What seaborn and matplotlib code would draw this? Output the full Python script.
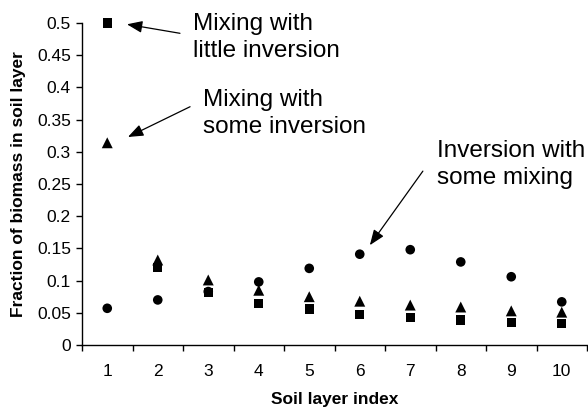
import numpy as np
import pandas as pd
import matplotlib
matplotlib.use("Agg")
import matplotlib.pyplot as plt
import seaborn as sns

# soil layer index and fraction of biomass per layer, three mixing regimes
layers = list(range(1, 11))
inversion_some_mixing = [0.057, 0.070, 0.083, 0.098, 0.119, 0.141, 0.148, 0.129, 0.106, 0.067]
mixing_some_inversion = [0.314, 0.132, 0.101, 0.085, 0.075, 0.068, 0.062, 0.059, 0.053, 0.051]
mixing_little_inversion = [0.500, 0.120, 0.082, 0.064, 0.056, 0.047, 0.043, 0.039, 0.035, 0.033]

series_names = ["Inversion with some mixing", "Mixing with some inversion", "Mixing with little inversion"]
series_values = [inversion_some_mixing, mixing_some_inversion, mixing_little_inversion]

df = pd.concat(
    [pd.DataFrame({"layer": layers, "fraction": v, "series": n}) for n, v in zip(series_names, series_values)],
    ignore_index=True,
)

sns.set_theme(style="ticks")
plt.rcParams["font.family"] = ["Liberation Sans", "DejaVu Sans"]

fig = plt.figure(figsize=(5.88, 4.08), dpi=100)
ax = fig.add_axes([82 / 588, 1 - 345 / 408, 505 / 588, 322 / 408])

sns.scatterplot(
    data=df, x="layer", y="fraction", style="series", size="series",
    markers={series_names[0]: "o", series_names[1]: "^", series_names[2]: "s"},
    sizes={series_names[0]: 48, series_names[1]: 62, series_names[2]: 45},
    color="black", edgecolor="black", linewidth=0, legend=False, ax=ax, zorder=3, clip_on=False,
)

ax.set_xlim(0.5, 10.5)
ax.set_ylim(0, 0.5)
ax.set_yticks(np.arange(0, 0.501, 0.05))
ax.set_yticklabels(["0", "0.05", "0.1", "0.15", "0.2", "0.25", "0.3", "0.35", "0.4", "0.45", "0.5"])
ax.set_xticks(layers)
ax.set_xticks(np.arange(0.5, 11, 1), minor=True)
ax.tick_params(axis="x", which="major", length=0, pad=14, labelsize=12.5, colors="black")
ax.tick_params(axis="x", which="minor", length=4, width=1, color="black", direction="out")
ax.tick_params(axis="y", length=4, width=1, pad=4, labelsize=12.5, colors="black")

for side in ["top", "right"]:
    ax.spines[side].set_visible(False)
for side in ["left", "bottom"]:
    ax.spines[side].set_color("black")
    ax.spines[side].set_linewidth(1)

ax.set_xlabel("Soil layer index", fontsize=12.5, fontweight="bold", color="black", labelpad=9)
ax.set_ylabel("Fraction of biomass in soil layer", fontsize=12.5, fontweight="bold", color="black", labelpad=8)

arrow = dict(arrowstyle="-|>,head_length=0.62,head_width=0.24", color="black", lw=0.9,
             mutation_scale=15, shrinkA=0, shrinkB=0)
label_style = dict(ha="left", va="top", fontsize=17.5, linespacing=1.3, color="black")

ax.text(2.70, 0.515, "Mixing with\nlittle inversion", **label_style)
ax.annotate("", xy=(1.39, 0.498), xytext=(2.44, 0.484), arrowprops=arrow, annotation_clip=False)

ax.text(2.90, 0.397, "Mixing with\nsome inversion", **label_style)
ax.annotate("", xy=(1.41, 0.323), xytext=(2.64, 0.370), arrowprops=arrow)

ax.text(7.53, 0.318, "Inversion with\nsome mixing", **label_style)
ax.annotate("", xy=(6.20, 0.155), xytext=(7.25, 0.270), arrowprops=arrow)

fig.savefig("out.png", dpi=100)
